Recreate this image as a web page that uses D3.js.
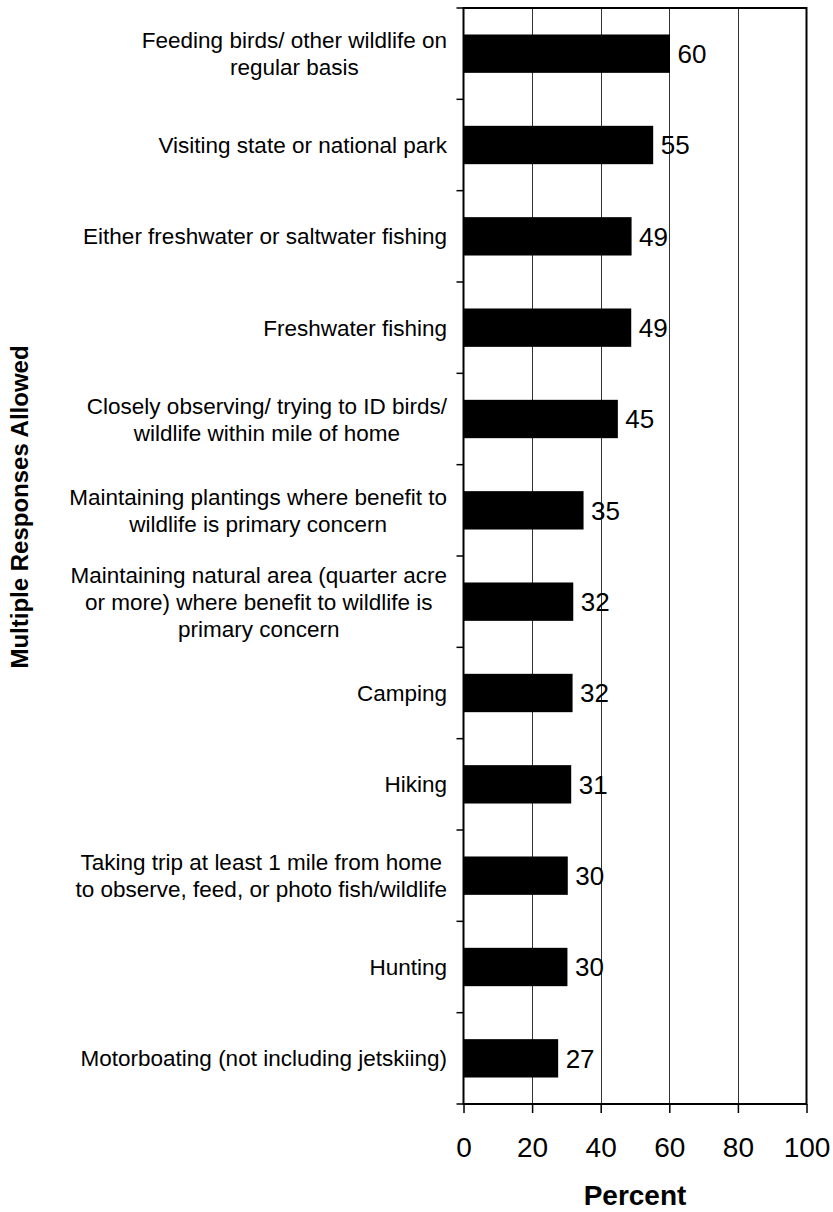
<!DOCTYPE html>
<html>
<head>
<meta charset="utf-8">
<script src="https://cdn.jsdelivr.net/npm/d3@7"></script>
<style>
  html, body { margin: 0; padding: 0; background: #fff; }
  svg { display: block; font-family: "Liberation Sans", Arial, sans-serif; }
</style>
</head>
<body>
<svg id="chart" width="833" height="1212"></svg>
<script>
// ---- data ----
const categories = [
  ["Feeding birds/ other wildlife on", "regular basis"],
  ["Visiting state or national park"],
  ["Either freshwater or saltwater fishing"],
  ["Freshwater fishing"],
  ["Closely observing/ trying to ID birds/", "wildlife within mile of home"],
  ["Maintaining plantings where benefit to", "wildlife is primary concern"],
  ["Maintaining natural area (quarter acre", "or more) where benefit to wildlife is", "primary concern"],
  ["Camping"],
  ["Hiking"],
  ["Taking trip at least 1 mile from home", "to observe, feed, or photo fish/wildlife"],
  ["Hunting"],
  ["Motorboating (not including jetskiing)"]
];
const values = [60.2, 55.3, 49.0, 48.9, 45.0, 35.0, 32.0, 31.8, 31.4, 30.4, 30.3, 27.6];
const valueLabels = ["60", "55", "49", "49", "45", "35", "32", "32", "31", "30", "30", "27"];
const xTicks = [0, 20, 40, 60, 80, 100];
const xTitle = "Percent";
const yTitle = "Multiple Responses Allowed";

// ---- layout ----
const plotL = 463.5, plotR = 806.5, plotT = 8, plotB = 1104;
const svg = d3.select("#chart");
const idx = d3.range(categories.length);

const x = d3.scaleLinear().domain([0, 100]).range([plotL, plotR]);
const y = d3.scaleBand().domain(idx).range([plotT, plotB]).padding(0);
const bw = y.bandwidth();
const barFrac = 0.42;

// gridlines
svg.append("g").selectAll("line")
  .data(xTicks.filter(t => t > 0 && t < 100))
  .join("line")
  .attr("x1", d => Math.round(x(d)) + 0.5).attr("x2", d => Math.round(x(d)) + 0.5)
  .attr("y1", plotT).attr("y2", plotB)
  .attr("stroke", "#333").attr("stroke-width", 1);

// bars
svg.append("g").selectAll("rect")
  .data(idx)
  .join("rect")
  .attr("x", x(0))
  .attr("y", i => y(i) + bw * (1 - barFrac) / 2)
  .attr("width", i => x(values[i]) - x(0))
  .attr("height", bw * barFrac)
  .attr("fill", "#000");

// value labels
svg.append("g").selectAll("text")
  .data(idx)
  .join("text")
  .attr("x", i => x(values[i]) + 7.5)
  .attr("y", i => y(i) + bw / 2)
  .attr("dy", "0.36em")
  .attr("font-size", 26)
  .attr("fill", "#000")
  .text(i => valueLabels[i]);

// frame
svg.append("rect")
  .attr("x", plotL).attr("y", plotT)
  .attr("width", plotR - plotL).attr("height", plotB - plotT)
  .attr("fill", "none").attr("stroke", "#000").attr("stroke-width", 2);

// left ticks at band boundaries
const boundaries = idx.map(i => y(i)).concat([y(idx[idx.length - 1]) + bw]);
svg.append("g").selectAll("line")
  .data(boundaries)
  .join("line")
  .attr("x1", plotL - 7).attr("x2", plotL)
  .attr("y1", d => d).attr("y2", d => d)
  .attr("stroke", "#000").attr("stroke-width", 1.5);

// bottom axis
const xAxis = d3.axisBottom(x).tickValues(xTicks).tickSize(9).tickPadding(24).tickFormat(d3.format("d"));
const gx = svg.append("g").attr("transform", `translate(0,${plotB})`).call(xAxis);
gx.select(".domain").remove();
gx.selectAll(".tick line").attr("stroke", "#000").attr("stroke-width", 1.5);
gx.selectAll(".tick text").attr("font-size", 28).attr("fill", "#000")
  .attr("font-family", "'Liberation Sans', Arial, sans-serif");

// category labels (block right-aligned, lines centered)
const lineH = 27;
const labelRight = 447;
const catG = svg.append("g");
idx.forEach(i => {
  const lines = categories[i];
  const t = catG.append("text")
    .attr("font-size", 22.5).attr("fill", "#000").attr("text-anchor", "middle");
  const cy = y(i) + bw / 2;
  const n = lines.length;
  lines.forEach((ln, k) => {
    t.append("tspan")
      .attr("y", cy + (k - (n - 1) / 2) * lineH)
      .attr("dy", "0.36em")
      .text(ln);
  });
  let maxW = 0;
  t.selectAll("tspan").each(function() { maxW = Math.max(maxW, this.getComputedTextLength()); });
  t.selectAll("tspan").attr("x", labelRight - maxW / 2);
});

// axis titles
svg.append("text")
  .attr("x", (plotL + plotR) / 2).attr("y", 1205)
  .attr("text-anchor", "middle").attr("font-size", 28).attr("font-weight", "bold")
  .text(xTitle);

svg.append("text")
  .attr("transform", "translate(28,507) rotate(-90)")
  .attr("text-anchor", "middle").attr("font-size", 24).attr("font-weight", "bold")
  .text(yTitle);
</script>
</body>
</html>
